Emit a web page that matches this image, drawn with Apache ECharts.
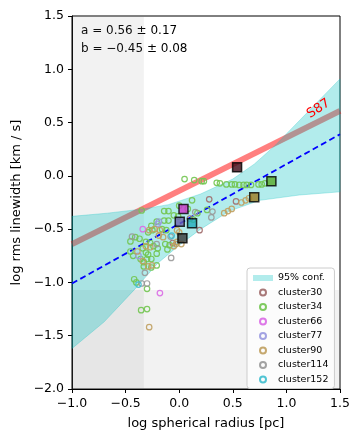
<!DOCTYPE html>
<html>
<head>
<meta charset="utf-8">
<script src="https://cdn.jsdelivr.net/npm/echarts@6/dist/echarts.min.js"></script>
<style>
  html, body { margin: 0; padding: 0; background: #fff; }
  #chart { width: 362px; height: 443px; }
</style>
</head>
<body>
<div id="chart"></div>
<script>
// masked regions (gray)
const xCut = -0.33
const yCut = -1.07

// Solomon 1987 relation, read at the frame edges
const s87X = [-1.0, 1.5]
const s87Y = [-0.64, 0.61]

// fitted relation
const fitX = [-1.0, 1.5]
const fitY = [-1.01, 0.39]

// 95% confidence band edges
const bandUpX = [-1.0, -0.67, -0.33, -0.1, 0.2, 0.5, 0.7, 0.9, 1.2, 1.5]
const bandUp = [-0.38, -0.35, -0.31, -0.27, -0.17, -0.03, 0.11, 0.29, 0.6, 0.91]
const bandLoX = [-1.0, -0.7, -0.42, -0.2, 0.0, 0.2, 0.47, 0.75, 1.12, 1.5]
const bandLo = [-1.62, -1.37, -1.07, -0.82, -0.65, -0.5, -0.33, -0.23, -0.18, -0.15]

const clusterNames = ['cluster30', 'cluster34', 'cluster66', 'cluster77', 'cluster90', 'cluster114', 'cluster152']
const clusterColors = ['#a06a6a', '#72c550', '#da6ae6', '#9a9ae0', '#c0a060', '#999999', '#3fbfcf']
const medianColors = ['#3d0814', '#58aa28', '#cc33cc', '#6a62aa', '#9c7c22', '#383838', '#22abbb']

const cluster30 = [[0.28, -0.22], [0.53, -0.24], [0.19, -0.51], [-0.06, -0.63], [0.1, -0.4]]
const cluster34 = [
  [0.05, -0.03], [0.14, -0.04], [0.21, -0.05], [0.23, -0.05], [0.35, -0.065], [0.38, -0.07],
  [0.44, -0.08], [0.49, -0.08], [0.52, -0.08], [0.56, -0.085], [0.6, -0.085], [0.63, -0.085],
  [0.67, -0.085], [0.74, -0.08], [0.77, -0.08], [0.8, -0.07],
  [-0.35, -0.325], [0.0, -0.28], [0.12, -0.23], [0.08, -0.31], [-0.14, -0.33], [-0.1, -0.33],
  [-0.05, -0.37], [-0.01, -0.38], [-0.21, -0.43], [-0.14, -0.42], [-0.1, -0.42], [0.17, -0.35],
  [0.26, -0.32], [0.13, -0.41], [-0.26, -0.47], [-0.16, -0.5], [-0.12, -0.51], [-0.29, -0.53],
  [-0.25, -0.51], [-0.41, -0.575], [-0.37, -0.59], [-0.455, -0.615], [-0.31, -0.62], [-0.27, -0.63],
  [-0.13, -0.64], [-0.09, -0.65], [-0.11, -0.69], [-0.24, -0.66], [-0.2, -0.68], [-0.455, -0.71],
  [-0.43, -0.75], [-0.34, -0.68], [-0.31, -0.72], [-0.29, -0.74], [-0.21, -0.73], [-0.36, -0.78],
  [-0.33, -0.81], [-0.3, -0.78], [-0.26, -0.78], [-0.33, -0.85], [-0.26, -0.86], [-0.21, -0.84],
  [-0.42, -0.97], [-0.4, -1.0], [-0.3, -1.06], [-0.355, -1.26], [-0.3, -1.25]
]
const cluster66 = [[-0.34, -0.5], [-0.18, -1.1]]
const cluster77 = [[-0.38, -0.75], [-0.2, -0.45], [-0.19, -0.43]]
const cluster90 = [
  [-0.28, -1.42], [0.58, -0.25], [0.62, -0.23], [0.65, -0.21], [0.42, -0.35], [0.455, -0.33],
  [0.49, -0.31], [-0.28, -0.51], [-0.23, -0.5], [-0.18, -0.51], [-0.19, -0.56], [-0.15, -0.575],
  [-0.02, -0.51], [0.0, -0.53], [0.02, -0.64], [-0.03, -0.64], [-0.31, -0.66], [-0.27, -0.67],
  [-0.39, -0.71], [-0.29, -0.85], [-0.255, -0.84], [-0.34, -0.8], [-0.05, -0.66], [-0.02, -0.62]
]
const cluster114 = [
  [-0.44, -0.57], [-0.21, -0.64], [-0.075, -0.77], [-0.32, -0.91], [-0.35, -1.01], [-0.3, -1.01],
  [0.31, -0.335], [0.15, -0.34], [-0.08, -0.57], [0.3, -0.39]
]
const cluster152 = [[-0.38, -1.02], [-0.07, -0.56]]
const clusterData = [cluster30, cluster34, cluster66, cluster77, cluster90, cluster114, cluster152]

// cluster medians (squares)
const medianX = [0.54, 0.86, 0.04, 0.005, 0.7, 0.03, 0.12]
const medianY = [0.08, -0.05, -0.31, -0.43, -0.2, -0.585, -0.445]

const fitText = ['a = 0.56 \u00b1 0.17', 'b = \u22120.45 \u00b1 0.08']

const fmt = v => v.toFixed(1).replace('-', '\u2212')
const zip = (xs, ys) => xs.map((x, i) => [x, ys[i]])

const axisCommon = {
  type: 'value',
  interval: 0.5,
  nameLocation: 'middle',
  nameTextStyle: { color: '#000', fontSize: 13, fontFamily: 'DejaVu Sans' },
  axisLine: { show: true, onZero: false, lineStyle: { color: '#000', width: 1 } },
  axisTick: { show: true, length: 4, lineStyle: { color: '#000' } },
  axisLabel: { color: '#000', fontSize: 12.5, fontFamily: 'DejaVu Sans', formatter: fmt, margin: 8 },
  splitLine: { show: false },
}

const series = [
  {
    name: 'masked',
    type: 'line',
    data: [],
    z: 1,
    markArea: {
      silent: true,
      itemStyle: { color: 'rgba(128,128,128,0.1)' },
      data: [
        [{ xAxis: -1.0, yAxis: -2.0 }, { xAxis: xCut, yAxis: 1.5 }],
        [{ xAxis: -1.0, yAxis: -2.0 }, { xAxis: 1.5, yAxis: yCut }],
      ],
    },
  },
  {
    name: 'S87',
    type: 'line',
    data: zip(s87X, s87Y),
    symbol: 'none',
    z: 2,
    lineStyle: { color: 'rgba(255,0,0,0.5)', width: 6 },
    markPoint: {
      symbol: 'circle',
      symbolSize: 0,
      data: [{ coord: [1.3, 0.63] }],
      label: {
        show: true,
        formatter: 'S87',
        color: '#ff0000',
        fontSize: 13,
        fontFamily: 'DejaVu Sans',
        rotate: 33,
      },
    },
  },
  {
    name: '95% conf.',
    type: 'custom',
    z: 3,
    data: [[0, 0]],
    itemStyle: { color: 'rgba(0,191,191,0.3)' },
    renderItem: function (params, api) {
      const pts = []
      for (let i = 0; i < bandUpX.length; i++) pts.push(api.coord([bandUpX[i], bandUp[i]]))
      for (let j = bandLoX.length - 1; j >= 0; j--) pts.push(api.coord([bandLoX[j], bandLo[j]]))
      return {
        type: 'polygon',
        shape: { points: pts },
        style: { fill: 'rgba(0,191,191,0.3)', stroke: 'rgba(0,191,191,0.35)', lineWidth: 0.8 },
      }
    },
  },
  {
    name: 'fit',
    type: 'line',
    data: zip(fitX, fitY),
    symbol: 'none',
    z: 4,
    lineStyle: { color: '#0000ff', width: 1.8, type: [6, 3.5] },
  },
]

clusterNames.forEach((name, k) => {
  series.push({
    name: name,
    type: 'scatter',
    data: clusterData[k],
    symbol: 'circle',
    symbolSize: 5.5,
    z: 5,
    itemStyle: { color: 'rgba(255,255,255,0)', borderColor: clusterColors[k], borderWidth: 1.2, opacity: 0.9 },
  })
})

clusterNames.forEach((name, k) => {
  series.push({
    name: name + ' median',
    type: 'scatter',
    data: [[medianX[k], medianY[k]]],
    symbol: 'rect',
    symbolSize: 9,
    z: 6,
    itemStyle: { color: medianColors[k], borderColor: '#000', borderWidth: 1.5 },
  })
})

const options = {
  animation: false,
  grid: {
    left: 72, right: 22, top: 16, bottom: 54,
    show: true, borderColor: '#000', borderWidth: 1, backgroundColor: 'transparent',
  },
  xAxis: Object.assign({}, axisCommon, {
    min: -1.0, max: 1.5,
    name: 'log spherical radius [pc]',
    nameGap: 28,
  }),
  yAxis: Object.assign({}, axisCommon, {
    min: -2.0, max: 1.5,
    name: 'log rms linewidth [km / s]',
    nameGap: 46,
  }),
  legend: {
    left: 247,
    top: 268,
    orient: 'vertical',
    itemWidth: 20,
    itemHeight: 6,
    itemGap: 4.5,
    padding: [5, 6, 4, 6],
    backgroundColor: 'rgba(255,255,255,0.8)',
    borderColor: '#cccccc',
    borderWidth: 1,
    borderRadius: 3,
    textStyle: { color: '#000', fontSize: 9.5, fontFamily: 'DejaVu Sans' },
    data: [{ name: '95% conf.', icon: 'rect' }].concat(clusterNames.map(n => ({ name: n, icon: 'circle' }))),
  },
  graphic: [
    {
      type: 'text',
      left: 81,
      top: 22,
      style: {
        text: fitText.join('\n'),
        fill: '#000',
        fontSize: 12,
        fontFamily: 'DejaVu Sans',
        lineHeight: 18,
      },
    },
  ],
  series: series,
}

const chart = echarts.init(document.getElementById('chart'))
chart.setOption(options)
window.onresize = function () {
  chart.resize()
}
</script>
</body>
</html>
